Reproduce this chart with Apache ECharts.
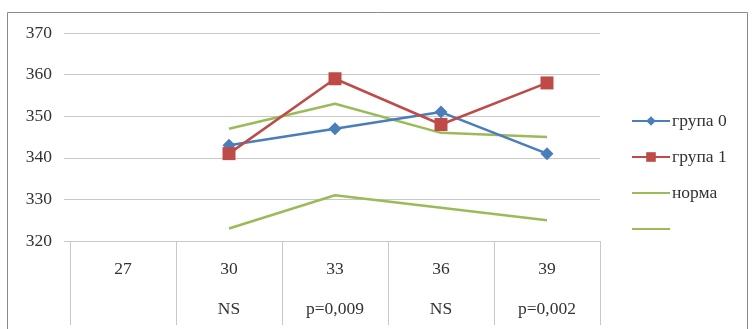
<!DOCTYPE html>
<html><head><meta charset="utf-8">
<script src="https://cdn.jsdelivr.net/npm/echarts@6/dist/echarts.min.js"></script>
<style>html,body{margin:0;padding:0;background:#fff}#c{width:754px;height:329px}</style>
</head><body><div id="c"></div>
<script>
const categories = ['27', '30', '33', '36', '39'];
const bottomLabels = ['', 'NS', 'p=0,009', 'NS', 'p=0,002'];
const grupa0 = [null, 343, 347, 351, 341];
const grupa1 = [null, 341, 359, 348, 358];
const norma = [null, 347, 353, 346, 345];
const normaLow = [null, 323, 331, 328, 325];
const yTicks = { min: 320, max: 370, interval: 10 };

const font = '"Times New Roman", "Liberation Serif", serif';
const chart = echarts.init(document.getElementById('c'));
chart.setOption({
  animation: false,
  backgroundColor: '#fff',
  textStyle: { fontFamily: font },
  graphic: [{
    type: 'rect', shape: { x: 7.5, y: 12.5, width: 740, height: 330 },
    style: { fill: 'none', stroke: '#8a8a8a', lineWidth: 1 }, silent: true, z: -1
  }],
  grid: { left: 70, right: 154, top: 33, bottom: 86 },
  legend: {
    orient: 'vertical', left: 626, top: 107,
    itemWidth: 38, itemHeight: 12, itemGap: 18,
    data: [
      { name: 'група 0' },
      { name: 'група 1' },
      { name: 'норма', itemStyle: { opacity: 0 } },
      { name: ' ', itemStyle: { opacity: 0 } }
    ],
    textStyle: { fontFamily: font, fontSize: 17.5, color: '#333', padding: [0, 0, 0, -3] }
  },
  xAxis: {
    type: 'category', data: categories, boundaryGap: true,
    axisLine: { show: true, lineStyle: { color: '#c8c8c8' } },
    axisTick: { show: true, interval: 0, length: 84, lineStyle: { color: '#c8c8c8' } },
    axisLabel: {
      interval: 0, margin: 8, lineHeight: 40,
      fontFamily: font, fontSize: 17.5, color: '#333',
      formatter: (v, i) => v + '\n' + bottomLabels[i]
    }
  },
  yAxis: {
    type: 'value', min: yTicks.min, max: yTicks.max, interval: yTicks.interval,
    axisLine: { show: false },
    axisTick: { show: true, length: 6, lineStyle: { color: '#c8c8c8' } },
    axisLabel: { margin: 18, fontFamily: font, fontSize: 17.5, color: '#333' },
    splitLine: { lineStyle: { color: '#c8c8c8' } }
  },
  series: [
    { name: 'група 0', type: 'line', data: grupa0, symbol: 'diamond', symbolSize: 13,
      lineStyle: { color: '#4a7ebb', width: 2.5 }, itemStyle: { color: '#4a7ebb' }, z: 3 },
    { name: 'група 1', type: 'line', data: grupa1, symbol: 'rect', symbolSize: 13,
      lineStyle: { color: '#be4b48', width: 2.5 }, itemStyle: { color: '#be4b48' }, z: 4 },
    { name: 'норма', type: 'line', data: norma, symbol: 'none',
      lineStyle: { color: '#9bbb59', width: 2.5 }, itemStyle: { color: '#9bbb59' }, z: 2 },
    { name: ' ', type: 'line', data: normaLow, symbol: 'none',
      lineStyle: { color: '#9bbb59', width: 2.5 }, itemStyle: { color: '#9bbb59' }, z: 2 }
  ]
});
</script></body></html>
